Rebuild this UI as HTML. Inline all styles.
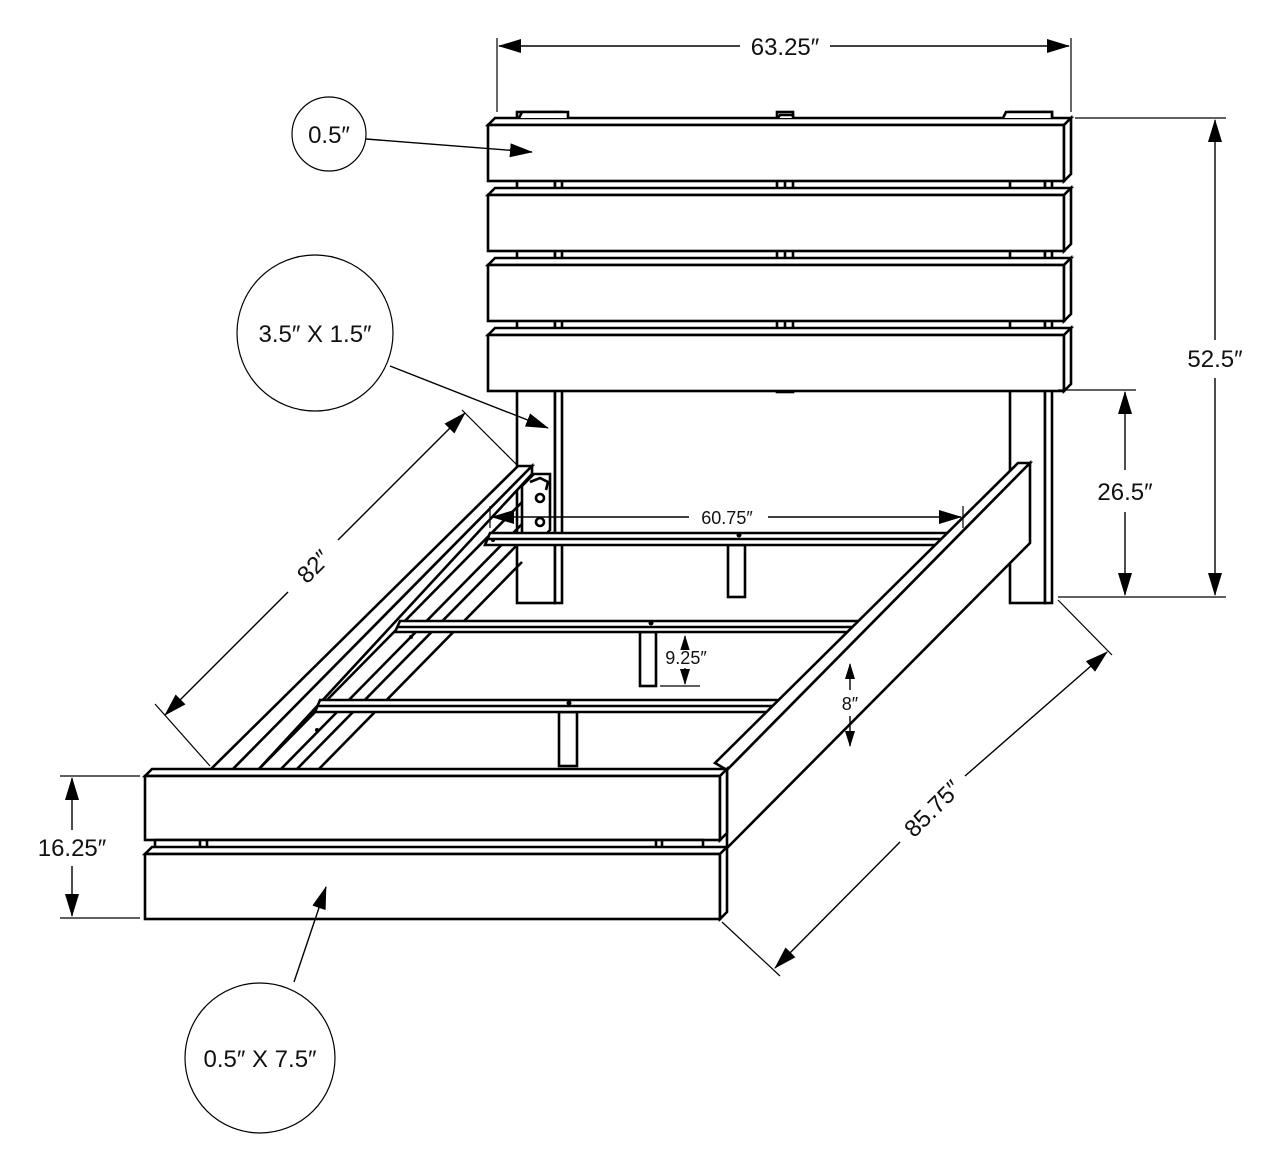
<!DOCTYPE html>
<html><head><meta charset="utf-8"><style>
html,body{margin:0;padding:0;background:#fff;}
svg{display:block;}
text{font-family:"Liberation Sans",sans-serif;font-size:24px;fill:#111;}
</style></head><body>
<svg width="1284" height="1172" viewBox="0 0 1284 1172" xmlns="http://www.w3.org/2000/svg">
<defs>
<marker id="a" markerWidth="24" markerHeight="14" refX="22" refY="7" orient="auto" markerUnits="userSpaceOnUse">
<path d="M0,0 L23,7 L0,14 Z" fill="#000"/></marker>
<marker id="b" markerWidth="16" markerHeight="10" refX="15" refY="5" orient="auto" markerUnits="userSpaceOnUse">
<path d="M0,0 L16,5 L0,10 Z" fill="#000"/></marker>
</defs>
<g fill="#fff" stroke="#000" stroke-width="2.6" stroke-linejoin="miter">
<rect x="517" y="112" width="38" height="491"/>
<rect x="555" y="112" width="7" height="491"/>
<rect x="1010" y="112" width="35" height="491"/>
<rect x="1045" y="112" width="7" height="491"/>
<rect x="777" y="112" width="16" height="280"/>
<line x1="785" y1="180" x2="785" y2="390"/>
<g>
<path d="M488,125 L495,118 L1071,118 L1064,125 Z"/><rect x="488" y="125" width="576" height="56"/><path d="M1064,125 L1071,118 L1071,174 L1064,181 Z"/>
</g>
<g transform="translate(0,70)">
<path d="M488,125 L495,118 L1071,118 L1064,125 Z"/><rect x="488" y="125" width="576" height="56"/><path d="M1064,125 L1071,118 L1071,174 L1064,181 Z"/>
</g>
<g transform="translate(0,140)">
<path d="M488,125 L495,118 L1071,118 L1064,125 Z"/><rect x="488" y="125" width="576" height="56"/><path d="M1064,125 L1071,118 L1071,174 L1064,181 Z"/>
</g>
<g transform="translate(0,210)">
<path d="M488,125 L495,118 L1071,118 L1064,125 Z"/><rect x="488" y="125" width="576" height="56"/><path d="M1064,125 L1071,118 L1071,174 L1064,181 Z"/>
</g>
<path d="M519,118 L522,112 L568,112 L568,118"/>
<path d="M778,118 L780,115 L793,115 L793,118"/>
<path d="M1003,118 L1006,112 L1052,112 L1052,118"/>

<path d="M210,770 L518,466 L532,466 L232,770 Z"/>
<path d="M232,770 L532,466 L532,474 L258,770"/>
<line x1="258" y1="770" x2="532" y2="492" />
<line x1="280" y1="770" x2="522" y2="524" />
<line x1="296" y1="770" x2="522" y2="540" />
<line x1="318" y1="770" x2="522" y2="562" />
<path d="M522,486 L534,474 L550,474 L550,530 L540,540 L522,540 Z"/>
<circle cx="540" cy="498" r="4"/><circle cx="540" cy="522" r="4"/>
<path d="M530,482 L540,478 L548,482 L546,490"/>

<rect x="728" y="545" width="17" height="52"/>
<path d="M485,545 L490,533 L960,533 L955,545 Z"/><line x1="487" y1="539" x2="957" y2="539"/>
<rect x="640" y="632" width="16" height="54"/>
<path d="M395,632 L400,621 L872,621 L867,632 Z"/><line x1="397" y1="627" x2="869" y2="627"/>
<rect x="559" y="712" width="18" height="54"/>
<path d="M315,712 L320,700 L788,700 L783,712 Z"/><line x1="317" y1="706" x2="785" y2="706"/>
</g>
<g fill="#000"><circle cx="739" cy="535" r="2.5"/><circle cx="651" cy="623" r="2.5"/><circle cx="569" cy="703" r="2.5"/>
<circle cx="411" cy="637" r="2"/><circle cx="317" cy="730" r="2"/><circle cx="493" cy="540" r="2"/></g>

<g fill="#fff" stroke="#000" stroke-width="2.6">
<path d="M715,763 L1018,463 L1030,463 L727,770 Z"/>
<path d="M727,770 L1030,463 L1030,543 L727,848 Z"/>
<path d="M145,776 L152,769 L727,769 L720,776 Z"/>
<rect x="145" y="776" width="575" height="64"/>
<path d="M720,776 L727,769 L727,833 L720,840 Z"/>
<rect x="155" y="840" width="548" height="8"/>
<line x1="200" y1="840" x2="200" y2="848"/><line x1="207" y1="840" x2="207" y2="848"/>
<line x1="656" y1="840" x2="656" y2="848"/><line x1="662" y1="840" x2="662" y2="848"/>
<path d="M145,854 L152,847 L727,847 L720,854 Z"/>
<rect x="145" y="854" width="575" height="65"/>
<path d="M720,854 L727,847 L727,912 L720,919 Z"/>
</g>

<g stroke="#000" stroke-width="1.2" fill="none">
<line x1="497" y1="38" x2="497" y2="112"/><line x1="1071" y1="38" x2="1071" y2="112"/>
<line x1="1075" y1="118" x2="1226" y2="118"/><line x1="1058" y1="597" x2="1226" y2="597"/>
<line x1="1058" y1="390" x2="1136" y2="390"/>
<line x1="60" y1="776" x2="140" y2="776"/><line x1="60" y1="918" x2="140" y2="918"/>
<line x1="462" y1="410" x2="516" y2="464"/><line x1="155" y1="704" x2="210" y2="766"/>
<line x1="722" y1="922" x2="780" y2="976"/><line x1="1058" y1="600" x2="1112" y2="655"/>
<line x1="490" y1="506" x2="490" y2="528"/><line x1="963" y1="506" x2="963" y2="528"/>
<line x1="660" y1="686" x2="700" y2="686"/>
<circle cx="329" cy="134" r="37"/>
<circle cx="315" cy="333" r="78"/>
<circle cx="260" cy="1058" r="75"/>
</g>
<g stroke="#000" stroke-width="1.4" fill="none" marker-end="url(#a)">
<line x1="740" y1="46" x2="499" y2="46"/><line x1="830" y1="46" x2="1069" y2="46"/>
<line x1="1215" y1="340" x2="1215" y2="120"/><line x1="1215" y1="378" x2="1215" y2="595"/>
<line x1="1125" y1="470" x2="1125" y2="392"/><line x1="1125" y1="512" x2="1125" y2="595"/>
<line x1="72" y1="830" x2="72" y2="778"/><line x1="72" y1="866" x2="72" y2="916"/>
<line x1="689" y1="517" x2="492" y2="517"/><line x1="768" y1="517" x2="961" y2="517"/>
<line x1="366" y1="139" x2="532" y2="152"/>
<line x1="390" y1="366" x2="548" y2="428"/>
<line x1="294" y1="982" x2="326" y2="887"/>
<line x1="288" y1="592" x2="165" y2="715"/><line x1="338" y1="540" x2="465" y2="413"/>
<line x1="900" y1="842" x2="775" y2="968"/><line x1="965" y1="776" x2="1107" y2="652"/>
</g>
<g stroke="#000" stroke-width="1.4" fill="none" marker-end="url(#b)">
<line x1="685" y1="650" x2="685" y2="636"/><line x1="685" y1="668" x2="685" y2="684"/>
<line x1="850" y1="690" x2="850" y2="664"/><line x1="850" y1="716" x2="850" y2="746"/>
</g>
<text x="785" y="55" text-anchor="middle">63.25″</text>
<text x="1215" y="367" text-anchor="middle">52.5″</text>
<text x="1125" y="500" text-anchor="middle">26.5″</text>
<text x="72" y="856" text-anchor="middle">16.25″</text>
<text x="727" y="524" text-anchor="middle" style="font-size:18px">60.75″</text>
<rect x="661" y="650" width="50" height="17" fill="#fff"/>
<text x="686" y="664" text-anchor="middle" style="font-size:18px">9.25″</text>
<text x="850" y="710" text-anchor="middle" style="font-size:18px">8″</text>
<text x="329" y="143" text-anchor="middle">0.5″</text>
<text x="315" y="342" text-anchor="middle">3.5″ X 1.5″</text>
<text x="260" y="1067" text-anchor="middle">0.5″ X 7.5″</text>
<text transform="translate(313,566) rotate(-45)" text-anchor="middle" y="9">82″</text>
<text transform="translate(932,808) rotate(-45)" text-anchor="middle" y="9">85.75″</text>
</svg>
</body></html>
